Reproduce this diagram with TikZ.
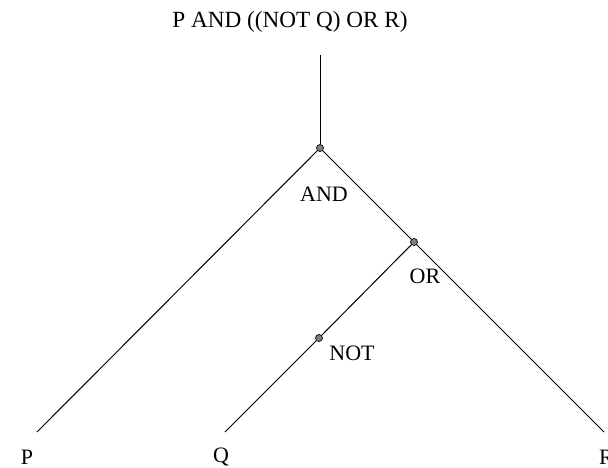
\documentclass[tikz,border=0pt]{standalone}
\usepackage{fontspec}
\setmainfont{Liberation Serif}
\begin{document}
\begin{tikzpicture}[x=1pt,y=-1pt,
  lbl/.style={inner sep=0pt,font=\fontsize{22}{26}\selectfont},
  ttl/.style={inner sep=0pt,font=\fontsize{23.2}{27}\selectfont},
  dot/.style={circle,draw=black,fill=gray,inner sep=0pt,minimum size=7pt,line width=0.7pt},
  edge/.style={line width=1pt}]
\useasboundingbox (0,0) rectangle (608,467);
\node[ttl] (top) at (290,22) {P AND ((NOT Q) OR R)};
\coordinate (topend) at (320,55);
\node[dot] (and) at (320,148) {};
\node[dot] (or) at (414,242) {};
\node[dot] (not) at (319,338) {};
\coordinate (pend) at (37,432);
\coordinate (qend) at (225,432);
\coordinate (rend) at (604,432);
\node[lbl] (andl) at (324,194) {AND};
\node[lbl] (orl) at (425,276) {OR};
\node[lbl] (notl) at (352,353) {NOT};
\node[lbl] (p) at (27,457) {P};
\node[lbl] (q) at (221,457) {Q};
\node[lbl,anchor=west] (r) at (599,457) {R};
\draw[edge] (topend) -- (and);
\draw[edge] (and) -- (pend);
\draw[edge] (and) -- (or);
\draw[edge] (or) -- (rend);
\draw[edge] (or) -- (not);
\draw[edge] (not) -- (qend);
\end{tikzpicture}
\end{document}
